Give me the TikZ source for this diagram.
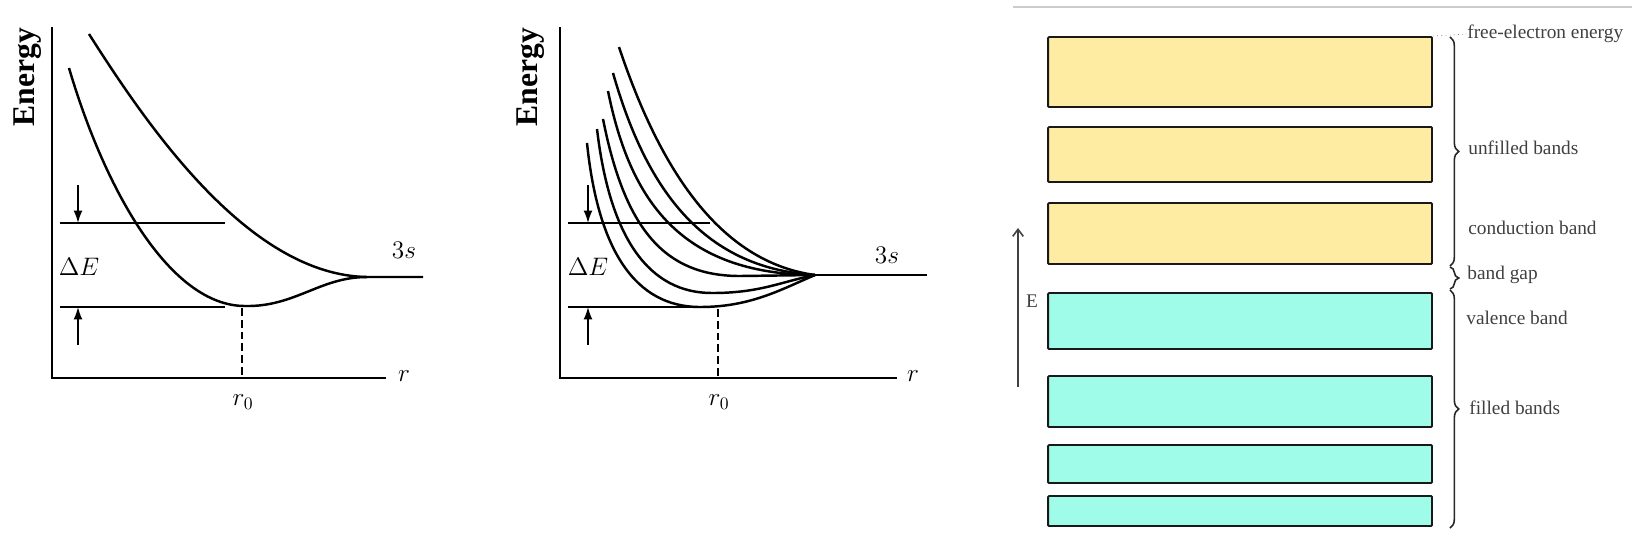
\documentclass[tikz,border=0pt]{standalone}
\usepackage{fontspec}
\setmainfont{Liberation Serif}
\usepackage{tikz}
\usetikzlibrary{arrows.meta,positioning,calc,decorations.pathreplacing}
\definecolor{bandyellow}{RGB}{253,236,162}
\definecolor{bandcyan}{RGB}{158,252,232}
\definecolor{labelgray}{RGB}{64,64,64}

\tikzset{
  curve/.style={line width=1.4pt},
  axis/.style={line width=1.1pt},
  level/.style={line width=1pt},
  gaparrow/.style={line width=0.9pt,-{Latex[length=7pt,width=5pt]}},
  rzero/.style={line width=0.9pt,dash pattern=on 4.5pt off 2.2pt},
  mathlbl/.style={font=\fontsize{14}{16}\selectfont,inner sep=0pt},
  energylbl/.style={font=\bfseries\fontsize{18}{20}\selectfont,rotate=90,inner sep=0pt},
  band/.style={draw=black!90,line width=1.1pt,rounded corners=0.6pt,
    minimum width=7.68cm,inner sep=0pt},
  bandlbl/.style={font=\fontsize{11}{13}\selectfont,text=labelgray,anchor=west,inner sep=0pt},
  bandbrace/.style={decorate,decoration={brace,amplitude=5pt},line width=0.9pt,black!85}
}

\begin{document}
\begin{tikzpicture}[x=0.02cm,y=-0.02cm]
  \useasboundingbox (0,0) rectangle (1632,556);

  % Left panel: axes
  \coordinate (lO) at (52,378);
  \draw[axis] (52,27) -- (lO) -- (386,378);
  \node[energylbl] (lEn) at (28,77) {Energy};
  \node[mathlbl] (lr) at (404,376) {$r$};
  % Left panel: gap levels
  \coordinate (lhi) at (60,223);
  \coordinate (llo) at (60,307);
  \draw[level] (lhi) -- (225,223);
  \draw[level] (llo) -- (225,307);
  \coordinate (ladn) at (78,185);
  \coordinate (laup) at (78,345);
  \draw[gaparrow] (ladn) -- (ladn |- lhi);
  \draw[gaparrow] (laup) -- (laup |- llo);
  \node[mathlbl] (lDE) at (79,267) {$\Delta E$};
  % Left panel: the two curves
  \coordinate (lmerge) at (367,277);
  \draw[curve] (89,34) .. controls (150,130) and (250,275) .. (lmerge) -- (423,277);
  \draw[curve] (69,68) .. controls (105,190) and (170,306) .. (245,306)
    .. controls (295,307) and (320,277) .. (lmerge);
  \node[mathlbl] (l3s) at (404,250) {$3s$};
  % Left panel: r0
  \coordinate (lmin) at (242,308);
  \draw[rzero] (lmin) -- (lmin |- lO);
  \node[mathlbl] (lr0) at (243,402) {$r_0$};

  % Middle panel: axes
  \coordinate (mO) at (560,378);
  \draw[axis] (560,27) -- (mO) -- (897,378);
  \node[energylbl] (mEn) at (531,77) {Energy};
  \node[mathlbl] (mr) at (913,376) {$r$};
  % Middle panel: gap levels
  \coordinate (mhi) at (568,223);
  \coordinate (mlo) at (568,307);
  \draw[level] (mhi) -- (710,223);
  \draw[level] (mlo) -- (710,307);
  \coordinate (madn) at (588,185);
  \coordinate (maup) at (588,345);
  \draw[gaparrow] (madn) -- (madn |- mhi);
  \draw[gaparrow] (maup) -- (maup |- mlo);
  \node[mathlbl] (mDE) at (588,267) {$\Delta E$};
  % Middle panel: six curves
  \coordinate (mmerge) at (815,275);
  \draw[curve] (mmerge) -- (927,275);
  \draw[curve] (619,47) .. controls (660,170) and (720,262) .. (mmerge);
  \draw[curve] (613,73) .. controls (645,185) and (700,268) .. (mmerge);
  \draw[curve] (608,91) .. controls (630,200) and (680,274) .. (mmerge);
  \draw[curve] (603,119) .. controls (625,230) and (665,276) .. (740,276) -- (mmerge);
  \draw[curve] (597,129) .. controls (610,240) and (650,293) .. (712,293)
    .. controls (760,293) and (780,282) .. (mmerge);
  \draw[curve] (587,143) .. controls (598,250) and (635,307) .. (700,307)
    .. controls (750,307) and (780,290) .. (mmerge);
  \node[mathlbl] (m3s) at (887,255) {$3s$};
  % Middle panel: r0
  \coordinate (mmin) at (718,309);
  \draw[rzero] (mmin) -- (mmin |- mO);
  \node[mathlbl] (mr0) at (719,402) {$r_0$};

  % Right panel: bands
  \draw[black!20,line width=0.8pt] (1013,7) -- (1632,7);
  \foreach \t/\b/\c [count=\i] in {37/107/bandyellow,127/182/bandyellow,203/264/bandyellow,
      293/349/bandcyan,376/427/bandcyan,445/483/bandcyan,496/526/bandcyan}
    \node[band,fill=\c,minimum height={(\b-\t)*0.02cm}] (b\i) at (1240,{(\t+\b)/2}) {};
  % energy axis
  \coordinate (Efoot) at (1018,387);
  \coordinate (Ehead) at (1018,228);
  \draw[black!75,line width=0.9pt,-{Straight Barb[length=4pt,width=6pt]}] (Efoot) -- (Ehead);
  \node[bandlbl,anchor=center] (Elbl) at (1032,301) {E};
  % labels and braces
  \node[bandlbl] (free) at (1467,34) {free-electron energy};
  \draw[dotted,black!50] (b1.north east) -- (free.west);
  \draw[bandbrace] ($(b1.north east)+(17,1)$) -- ($(b3.south east)+(17,1)$);
  \draw[bandbrace] ($(b3.south east)+(17,2)$) -- ($(b4.north east)+(17,-3)$);
  \draw[bandbrace] ($(b4.north east)+(17,-2)$) -- ($(b7.south east)+(17,1)$);
  \node[bandlbl] (unfilled) at (1468,148) {unfilled bands};
  \node[bandlbl] (cond) at (1468,228) {conduction band};
  \node[bandlbl] (gap) at (1467,275) {band gap};
  \node[bandlbl] (val) at (1466,318) {valence band};
  \node[bandlbl] (filled) at (1469,408) {filled bands};
\end{tikzpicture}
\end{document}
